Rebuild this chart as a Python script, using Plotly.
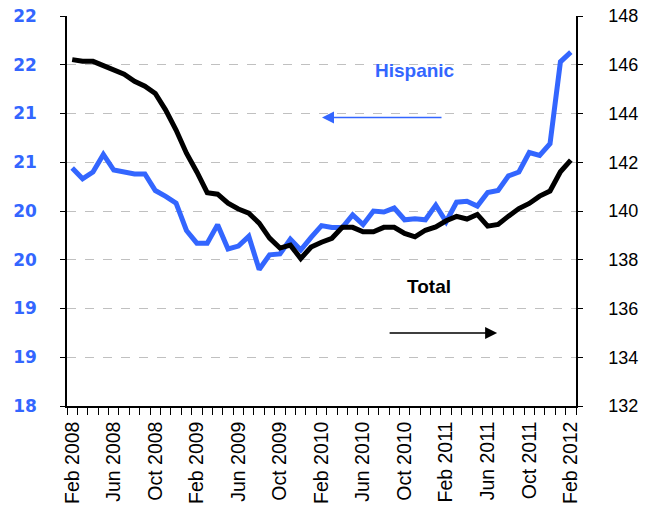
import plotly.graph_objects as go

months = ["Jan", "Feb", "Mar", "Apr", "May", "Jun", "Jul", "Aug", "Sep", "Oct", "Nov", "Dec"]
categories = []
for yr in range(2008, 2013):
    for m in months:
        categories.append(f"{m} {yr}")
categories = categories[1:50]  # Feb 2008 .. Feb 2012

hispanic = [20.44, 20.33, 20.40, 20.58, 20.42, 20.40, 20.38, 20.38, 20.21, 20.15,
            20.08, 19.80, 19.67, 19.67, 19.86, 19.61, 19.64, 19.74, 19.40, 19.55,
            19.56, 19.71, 19.60, 19.73, 19.85, 19.83, 19.83, 19.96, 19.86, 20.00,
            19.99, 20.03, 19.91, 19.92, 19.91, 20.06, 19.89, 20.09, 20.10, 20.05,
            20.19, 20.21, 20.36, 20.40, 20.60, 20.57, 20.69, 21.53, 21.63]

total = [146.21, 146.14, 146.14, 145.98, 145.82, 145.61, 145.32, 145.12, 144.82, 144.14,
         143.32, 142.37, 141.60, 140.75, 140.69, 140.32, 140.08, 139.91, 139.50, 138.89,
         138.48, 138.60, 138.05, 138.52, 138.72, 138.88, 139.33, 139.33, 139.15, 139.15,
         139.33, 139.33, 139.08, 138.94, 139.21, 139.35, 139.60, 139.78, 139.67, 139.86,
         139.38, 139.45, 139.79, 140.10, 140.31, 140.61, 140.82, 141.61, 142.09]

left_tickvals = [18, 18.5, 19, 19.5, 20, 20.5, 21, 21.5, 22]
left_ticktext = ["18", "19", "19", "20", "20", "21", "21", "22", "22"]
right_tickvals = [132, 134, 136, 138, 140, 142, 144, 146, 148]

BLUE = "#3366FF"

x_ticktext = [c if i % 4 == 0 else "" for i, c in enumerate(categories)]

fig = go.Figure()
fig.add_trace(go.Scatter(x=categories, y=hispanic, mode="lines", name="Hispanic",
                         line=dict(color=BLUE, width=5), yaxis="y"))
fig.add_trace(go.Scatter(x=categories, y=total, mode="lines", name="Total",
                         line=dict(color="black", width=5), yaxis="y2"))

fig.update_layout(
    width=651, height=509,
    margin=dict(l=67, r=75, t=16, b=103, autoexpand=False),
    plot_bgcolor="white", paper_bgcolor="white",
    showlegend=False,
    xaxis=dict(
        type="category", categoryorder="array", categoryarray=categories,
        tickmode="array", tickvals=categories, ticktext=x_ticktext,
        tickson="boundaries", ticks="outside", ticklen=7, tickcolor="black", tickwidth=1,
        showline=True, linecolor="black", linewidth=1.5,
        showgrid=False, tickangle=-90,
        tickfont=dict(family="Liberation Sans", size=19.5, color="black"),
        ticklabelstandoff=6,
        range=[-0.5, 48.5], automargin=False,
    ),
    yaxis=dict(
        range=[18, 22], tickmode="array", tickvals=left_tickvals, ticktext=left_ticktext,
        ticks="outside", ticklen=5, tickcolor="black", tickwidth=1,
        showline=True, linecolor="black", linewidth=1.5,
        showgrid=True, gridcolor="#c0c0c0", griddash="dash", gridwidth=1,
        zeroline=False,
        tickfont=dict(family="DejaVu Sans", size=17, color=BLUE, weight="bold"),
        ticklabelstandoff=20, automargin=False,
    ),
    yaxis2=dict(
        range=[132, 148], tickmode="array", tickvals=right_tickvals,
        overlaying="y", side="right",
        ticks="outside", ticklen=5, tickcolor="black", tickwidth=1,
        showline=True, linecolor="black", linewidth=1.5,
        showgrid=False, zeroline=False,
        tickfont=dict(family="Liberation Sans", size=18, color="black"),
        ticklabelstandoff=22, automargin=False,
    ),
    annotations=[
        dict(text="<b>Hispanic</b>", xref="paper", yref="paper", x=0.684, y=0.861,
             xanchor="center", yanchor="middle",
             showarrow=False, font=dict(family="Liberation Sans", size=19, color=BLUE)),
        dict(text="<b>Total</b>", xref="paper", yref="paper", x=0.711, y=0.307,
             xanchor="center", yanchor="middle",
             showarrow=False, font=dict(family="Liberation Sans", size=19, color="black")),
        dict(text="", xref="paper", yref="paper", x=0.501, y=0.740,
             showarrow=True, ax=121, ay=0, axref="pixel", ayref="pixel",
             arrowhead=2, arrowsize=1.6, arrowwidth=1.5, arrowcolor=BLUE),
        dict(text="", xref="paper", yref="paper", x=0.845, y=0.187,
             showarrow=True, ax=-109, ay=0, axref="pixel", ayref="pixel",
             arrowhead=2, arrowsize=1.6, arrowwidth=1.5, arrowcolor="black"),
    ],
)

fig.write_html("out.html")
